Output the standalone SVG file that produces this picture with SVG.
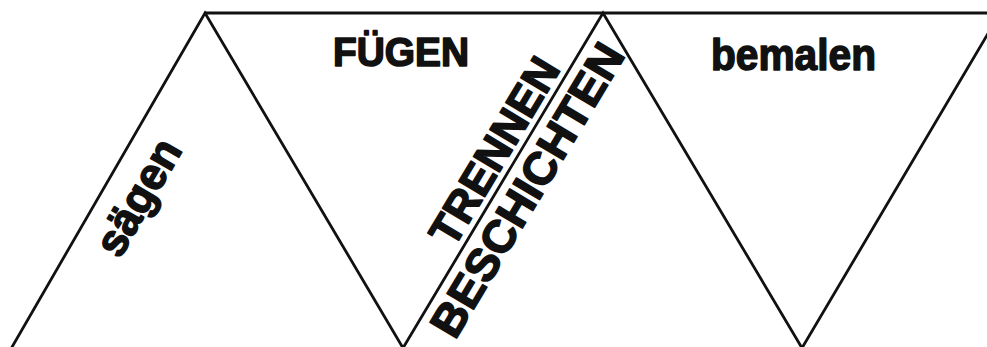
<svg xmlns="http://www.w3.org/2000/svg" width="987" height="347" viewBox="0 0 987 347">
  <style>
    .ln { fill: none; stroke: #111; stroke-width: 2.8; stroke-linejoin: miter; }
    .lbl { font-family: "Liberation Sans", Arial, sans-serif; font-weight: bold; fill: #111; stroke: #111; stroke-width: 1.6; stroke-linejoin: round; text-anchor: middle; }
  </style>
  <rect x="0" y="0" width="987" height="347" fill="#fff"/>
  <g id="connectors">
    <polyline class="ln" points="10.3,350 205,13 403,348 603,13 802,348 1002,10"/>
    <line class="ln" x1="205" y1="13" x2="990" y2="13"/>
  </g>
  <g id="fuegen">
    <text class="lbl" x="401" y="66" font-size="40" textLength="136" lengthAdjust="spacingAndGlyphs">FÜGEN</text>
  </g>
  <g id="bemalen">
    <text class="lbl" x="793.5" y="70" font-size="45" textLength="165" lengthAdjust="spacingAndGlyphs">bemalen</text>
  </g>
  <g id="saegen">
    <text class="lbl" font-size="45" transform="translate(151.4,204.7) rotate(-60)" textLength="127" lengthAdjust="spacingAndGlyphs">sägen</text>
  </g>
  <g id="trennen">
    <text class="lbl" font-size="44" transform="translate(507.4,158.9) rotate(-59.1)" textLength="210" lengthAdjust="spacingAndGlyphs">TRENNEN</text>
  </g>
  <g id="beschichten">
    <text class="lbl" font-size="45" transform="translate(540.5,197.8) rotate(-59.1)" textLength="333" lengthAdjust="spacingAndGlyphs">BESCHICHTEN</text>
  </g>
</svg>
